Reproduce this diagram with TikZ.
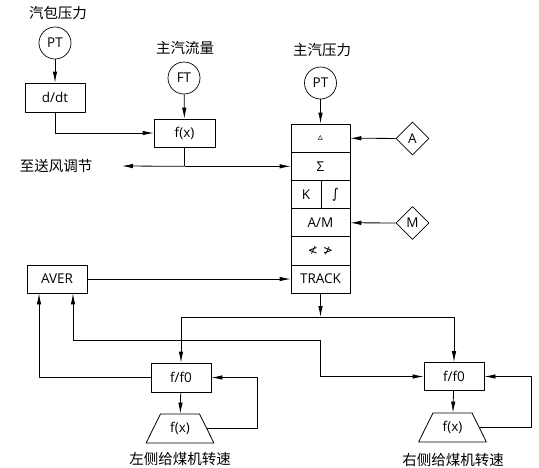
\documentclass[tikz,border=0pt]{standalone}
\usepackage{fontspec}
\setmainfont{Open Sans}
\newfontfamily\cjk{Noto Sans CJK SC}
\newfontfamily\symfont{DejaVu Sans}
\usetikzlibrary{arrows.meta,shapes.geometric}

\begin{document}
\begin{tikzpicture}[
    x=1pt, y=-1pt,
    line join=round,
    every node/.style={font=\fontsize{13.5}{16}\selectfont},
    arr/.style={-{Latex[length=11pt,width=4.5pt]}, line width=0.8pt},
    wire/.style={line width=0.8pt},
    meter/.style={draw, circle, line width=0.7pt, minimum size=32, inner sep=0pt},
    blk/.style={draw, rectangle, line width=0.8pt, minimum width=60, minimum height=29, inner sep=0pt},
    row/.style={draw, rectangle, line width=0.8pt, minimum width=59, minimum height=28.2, inner sep=0pt},
    sw/.style={draw, diamond, line width=0.7pt, minimum width=33, minimum height=33, inner sep=0pt},
    feeder/.style={draw, trapezium, trapezium stretches=true, trapezium left angle=60,
        trapezium right angle=60, line width=0.8pt, minimum width=68, minimum height=29, inner sep=0pt},
    cjktext/.style={font=\cjk\fontsize{14.5}{16}\selectfont}
]

\useasboundingbox (0,0) rectangle (539,467);

% -----------------------------
% Top left: drum pressure and steam flow
% -----------------------------
\node[cjktext] (lbldrum) at (58,13) {汽包压力};
\node[meter] (ptdrum) at (55,43) {PT};
\node[blk] (ddt) at (55,97.5) {d/dt};

\node[cjktext] (lblflow) at (185,48) {主汽流量};
\node[meter] (ftflow) at (184,78) {FT};
\node[blk, minimum width=61, minimum height=28] (fxflow) at (184.5,133) {f(x)};

\node[cjktext, anchor=east] (lblfan) at (96,166) {至送风调节};
\coordinate (tofan) at (122,166);

\draw[arr] (ptdrum) -- (ddt);
\draw[arr] (ftflow) -- (fxflow);
\draw[arr] (ddt.south) |- (fxflow.west);

% -----------------------------
% Main steam pressure controller stack
% -----------------------------
\node[cjktext] (lblmain) at (322,50) {主汽压力};
\node[meter] (ptmain) at (320.5,83) {PT};

\node[row] (rdelta) at (320.5,138.1) {\symfont\fontsize{10}{12}\selectfont ▵};
\node[row] (rsum) at (320.5,166.3) {Σ};
\node[row, minimum width=30] (rk) at (306,194.5) {K};
\node[row, minimum width=29] (rint) at (335.5,194.5) {\symfont ∫};
\node[row] (ram) at (320.5,222.7) {A/M};
\node[row] (rlim) at (320.5,250.9) {\symfont\fontsize{12}{14}\selectfont ≮\hspace{5pt}≯};
\node[row] (rtrack) at (320.5,279.1) {TRACK};

\node[sw] (swa) at (412.5,138.5) {A};
\node[sw] (swm) at (412.5,223) {M};

\draw[arr] (ptmain) -- (rdelta);
\draw[arr] (swa) -- (rdelta);
\draw[arr] (swm) -- (ram);

\draw[wire] (fxflow.south) -- (fxflow.south |- rsum.west);
\draw[arr] (fxflow.south |- rsum.west) -- (rsum.west);
\draw[arr] (fxflow.south |- rsum.west) -- (tofan);

% -----------------------------
% Bottom: feeders and averaging
% -----------------------------
\node[blk, minimum height=28] (aver) at (57,279) {AVER};

\coordinate (split) at (320.5,317);
\coordinate (bend) at (320,340);

\node[blk] (ffleft) at (181,377.5) {f/f0};
\node[feeder] (fxleft) at (180,428.5) {f(x)};
\node[cjktext] (lblleft) at (180,459) {左侧给煤机转速};

\node[blk, minimum height=28] (ffright) at (454,376.5) {f/f0};
\node[feeder] (fxright) at (452.5,427.5) {f(x)};
\node[cjktext] (lblright) at (453,460) {右侧给煤机转速};

\draw[arr] (aver.east) -- (aver.east -| rtrack.west);
\draw[arr] (rtrack) -- (split);
\draw[arr] (split) -| (ffleft.north);
\draw[arr] (split) -| (ffright.north);

\draw[arr] (ffleft.west) -| ([xshift=-18pt]aver.south);
\draw[arr, {Latex[length=11pt,width=4.5pt]}-{Latex[length=11pt,width=4.5pt]}]
    ([xshift=16pt]aver.south) |- (bend) |- (ffright.west);

\draw[arr] (ffleft) -- (fxleft);
\draw[arr] (ffright) -- (fxright);
\draw[arr] (fxleft.east) -- ++(50,0) |- (ffleft.east);
\draw[arr] (fxright.east) -- ++(52,0) |- (ffright.east);

\end{tikzpicture}
\end{document}
